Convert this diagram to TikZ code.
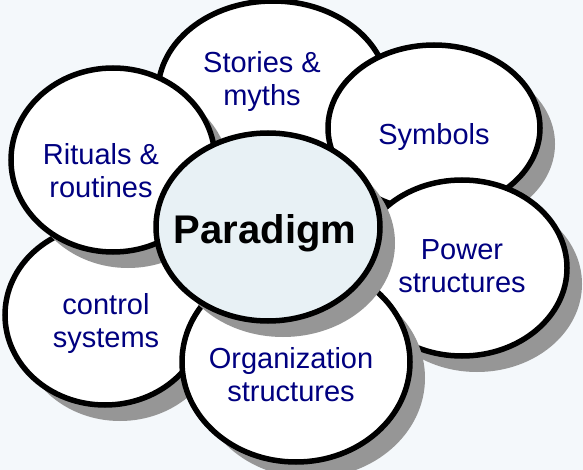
\documentclass[tikz,border=0pt]{standalone}
\usepackage{fontspec}
\setmainfont{Liberation Sans}
\usetikzlibrary{shapes.geometric,shadows}
\definecolor{bgc}{RGB}{244,248,251}
\definecolor{shc}{RGB}{150,150,150}
\definecolor{navy}{RGB}{0,0,128}
\definecolor{parafill}{RGB}{232,241,245}
\begin{document}
\begin{tikzpicture}[x=1pt,y=-1pt,
  bubble/.style={ellipse, draw=black, line width=5.5pt, fill=white, inner sep=0pt,
    drop shadow={shadow xshift=15pt, shadow yshift=-16pt, fill=shc, opacity=1}},
  lbl/.style={align=center, text=navy, font=\fontsize{29}{33}\selectfont, inner sep=0pt}]
\fill[bgc] (0,0) rectangle (583,470);
\useasboundingbox (0,0) rectangle (583,470);
\node[bubble, minimum width=230, minimum height=182] (sto) at (273,92) {};
\node[bubble, minimum width=212, minimum height=166] (sym) at (434,128) {};
\node[bubble, minimum width=210, minimum height=176] (pow) at (462,268) {};
\node[bubble, minimum width=200, minimum height=180] (con) at (105,315) {};
\node[bubble, minimum width=204, minimum height=184] (rit) at (113,160) {};
\node[bubble, minimum width=228, minimum height=200] (org) at (296,362) {};
\node[bubble, fill=parafill, minimum width=224, minimum height=188] (par) at (268,227) {};
\node[lbl] (stot) at (262,82) {Stories \&\\myths};
\node[lbl] (symt) at (434,137) {Symbols};
\node[lbl] (ritt) at (101,171) {Rituals \&\\routines};
\node[lbl] (powt) at (462,266) {Power\\structures};
\node[lbl] (cont) at (106,324) {control\\systems};
\node[lbl] (orgt) at (291,375) {Organization\\structures};
\node[inner sep=0pt, font=\fontsize{40}{44}\selectfont\bfseries] (part) at (265,233) {Paradigm};
\end{tikzpicture}
\end{document}
